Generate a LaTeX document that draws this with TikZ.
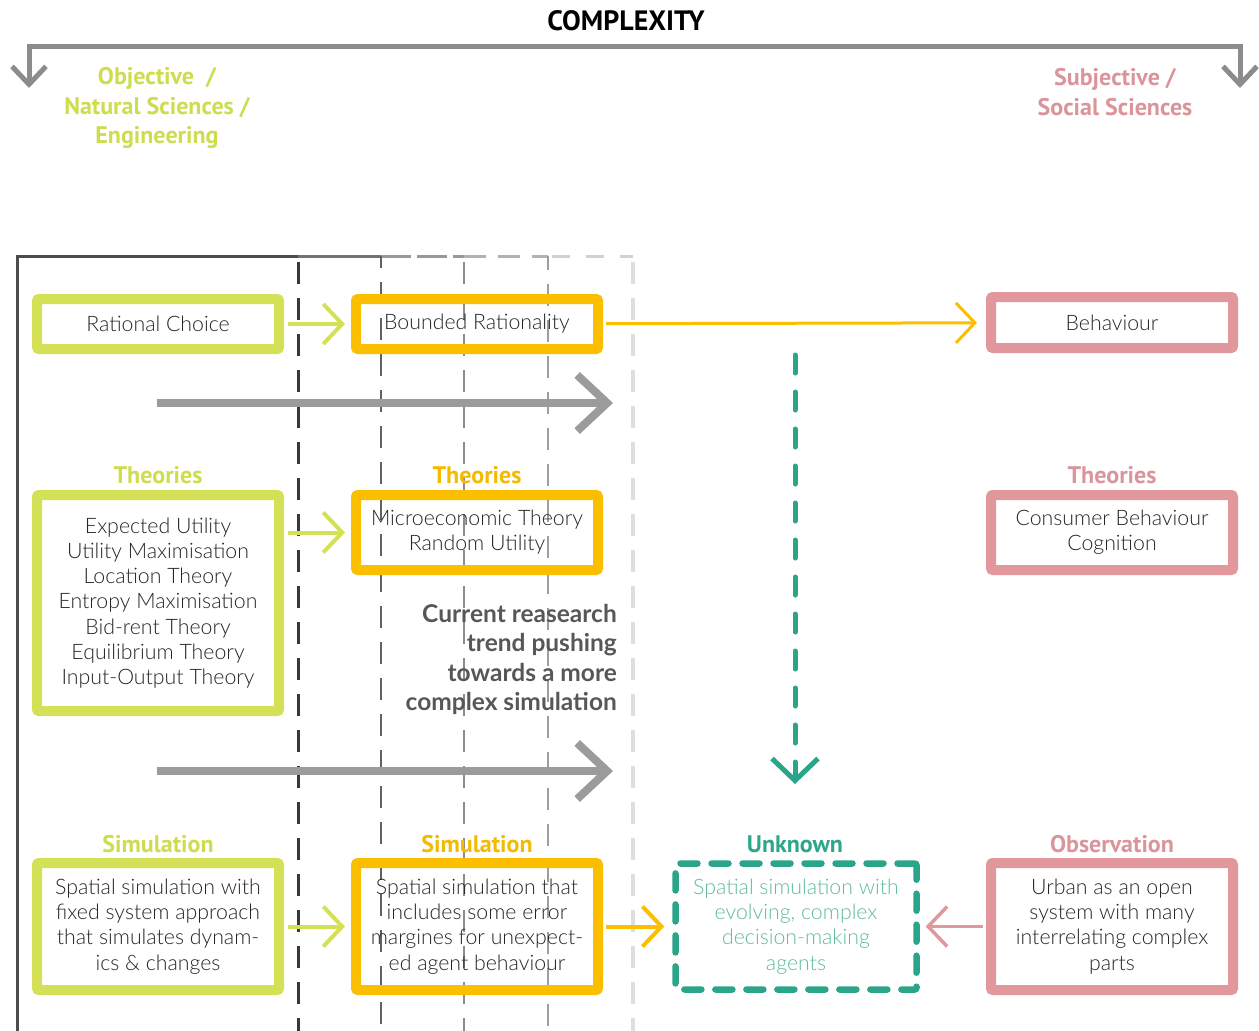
\documentclass[tikz,border=0pt]{standalone}
\usepackage{fontspec}
\usetikzlibrary{arrows.meta}

% Body text: a light sans; headings: a bold sans
\IfFontExistsTF{Lato Light}{\newfontfamily\bodyface{Lato Light}}{\newfontfamily\bodyface{Lato}}
\newfontfamily\strongface{Lato}
\newfontfamily\headface{PT Sans}

\newcommand{\bodyfont}{\bodyface\fontsize{21.3}{25.2}\selectfont}
\newcommand{\headfont}{\headface\bfseries\fontsize{24}{29.5}\selectfont}
\newcommand{\titlefont}{\headface\bfseries\fontsize{28}{30}\selectfont}
\newcommand{\notefont}{\strongface\bfseries\fontsize{24.5}{29.5}\selectfont}

\definecolor{lime}{HTML}{D4E157}
\definecolor{amber}{HTML}{FBBF00}
\definecolor{rose}{HTML}{E1979C}
\definecolor{teal}{HTML}{2BA589}
\definecolor{tealtxt}{HTML}{5FBAA1}
\definecolor{ink}{HTML}{262626}
\definecolor{trendgray}{HTML}{9B9B9B}
\definecolor{bracketgray}{HTML}{8C8C8C}
\definecolor{limeT}{HTML}{CCDD4E}
\definecolor{amberT}{HTML}{F4BA00}
\definecolor{roseT}{HTML}{DA959B}
\definecolor{tealT}{HTML}{2FA68A}
\definecolor{notegray}{HTML}{575757}

\pgfdeclarelayer{bg}
\pgfsetlayers{bg,main}

\begin{document}
\begin{tikzpicture}[x=1pt,y=-1pt,
  box/.style={draw, line width=10pt, rounded corners=2pt, minimum width=242pt,
    inner sep=0pt, align=center, font=\bodyfont, text=ink},
  unkbox/.style={draw=teal, line width=6.5pt, dash pattern=on 17pt off 14pt,
    line cap=round, rounded corners=2pt, minimum width=241pt, minimum height=126pt,
    inner sep=0pt, align=center, font=\bodyfont, text=tealtxt},
  head/.style={font=\headfont, anchor=base},
  link/.style={line width=4pt, -{Straight Barb[length=19pt,width=40pt]}},
  trend/.style={draw=trendgray, line width=8pt, -{Straight Barb[length=30pt,width=56pt]}},
  bracket/.style={draw=bracketgray, line width=5pt,
    {Straight Barb[length=18pt,width=34pt]}-{Straight Barb[length=18pt,width=34pt]}},
  gridline/.style={line width=#1, dash pattern=on 22pt off 14pt},
]
\useasboundingbox (0,0) rectangle (1259,1031);

% ---- heading and the complexity bracket
\node[font=\titlefont, anchor=base] (title) at (626,30) {COMPLEXITY};
\coordinate (lt) at (29,88);
\coordinate (rt) at (1240,88);
\draw[bracket] (lt) -- (29,46) -- (1240,46) -- (rt);
\node[font=\headfont, text=limeT, align=center] (objective) at (157,108)
  {Objective\ \ /\\Natural Sciences /\\Engineering};
\node[font=\headfont, text=roseT, align=center] (subjective) at (1115,92)
  {Subjective /\\Social Sciences};

% ---- row 1
\node[box, draw=lime, minimum height=50pt] (rc) at (158,324) {Rational Choice};
\node[box, draw=amber, minimum height=50pt] (br) at (477,324) {Bounded Rationality};
\node[box, draw=rose, minimum height=51pt] (beh) at (1112,322.5) {Behaviour};

% ---- row 2: theories
\node[head, text=limeT] (thA) at (158,483) {Theories};
\node[head, text=amberT] (thB) at (477,483) {Theories};
\node[head, text=roseT] (thC) at (1112,483) {Theories};
\node[box, draw=lime, minimum height=216pt] (th1) at (158,603)
  {Expected Utility\\Utility Maximisation\\Location Theory\\Entropy Maximisation\\Bid-rent Theory\\Equilibrium Theory\\Input-Output Theory};
\node[box, draw=amber, minimum height=75pt] (th2) at (477,532.5)
  {Microeconomic Theory\\Random Utility};
\node[box, draw=rose, minimum height=75pt] (th3) at (1112,532.5)
  {Consumer Behaviour\\Cognition};

\node[font=\notefont, text=notegray, align=right, anchor=north east, inner sep=0pt] (note) at (617,604)
  {Current reasearch\\trend pushing\\towards a more\\complex simulation};

% ---- row 3: simulation
\node[head, text=limeT] (smA) at (158,852) {Simulation};
\node[head, text=amberT] (smB) at (477,852) {Simulation};
\node[head, text=tealT] (smC) at (795,852) {Unknown};
\node[head, text=roseT] (smD) at (1112,852) {Observation};
\node[box, draw=lime, minimum height=127pt] (s1) at (158,926.5)
  {Spatial simulation with\\fixed system approach\\that simulates dynam-\\ics \& changes};
\node[box, draw=amber, minimum height=127pt] (s2) at (477,926.5)
  {Spatial simulation that\\includes some error\\margines for unexpect-\\ed agent behaviour};
\node[unkbox] (s3) at (796,926.5)
  {Spatial simulation with\\evolving, complex\\decision-making\\agents};
\node[box, draw=rose, minimum height=127pt] (s4) at (1112,926.5)
  {Urban as an open\\system with many\\interrelating complex\\parts};

% ---- white box interiors and the fading column grid behind the frames
\begin{pgfonlayer}{bg}
  \foreach \n in {rc,br,beh,th1,th2,th3,s1,s2,s4}
    \fill[white] (\n.north west) rectangle (\n.south east);
  \draw[line width=3pt, color=black!70] (17,1031) -- (17,256) -- (298,256);
  \draw[line width=3pt, color=black!55] (298,256) -- (381,256);
  \draw[line width=3pt, color=black!40, dash pattern=on 30pt off 6pt] (381,256) -- (464,256);
  \draw[line width=3pt, color=black!30, dash pattern=on 22pt off 12pt] (464,256) -- (548,256);
  \draw[line width=3pt, color=black!18, dash pattern=on 18pt off 16pt] (552,256) -- (633,256);
  \draw[gridline=3pt, color=black!78] (298,262) -- (298,1031);
  \draw[gridline=2.2pt, color=black!62, dash phase=10pt] (381,256) -- (381,1031);
  \draw[gridline=2pt, color=black!45] (464,262) -- (464,1031);
  \draw[gridline=2pt, color=black!38, dash phase=8pt] (548,256) -- (548,1031);
  \draw[gridline=3.5pt, color=black!13] (633,262) -- (633,1031);
\end{pgfonlayer}

% ---- connectors
\draw[link, draw=lime, shorten <=4pt, shorten >=6pt] (rc) -- (br);
\draw[link, draw=lime, shorten <=4pt, shorten >=6pt] (th1.east |- th2) -- (th2);
\draw[link, draw=lime, shorten <=4pt, shorten >=6pt] (s1) -- (s2);
\draw[link, draw=amber, line width=3pt, shorten <=3pt, shorten >=9pt] (br) -- (beh);
\draw[link, draw=amber, shorten <=3pt, shorten >=8pt] (s2) -- (s3);
\draw[link, draw=rose, line width=3.5pt, shorten <=3pt, shorten >=6pt] (s4) -- (s3);

% ---- trend arrows
\coordinate (t1a) at (157,403);
\coordinate (t1b) at (613,403);
\coordinate (t2a) at (157,771);
\coordinate (t2b) at (613,771);
\draw[trend] (t1a) -- (t1b);
\draw[trend] (t2a) -- (t2b);

% ---- open question: towards the unknown
\coordinate (ua) at (795,355);
\coordinate (ub) at (795,784);
\draw[draw=teal, line width=5pt, line cap=round, dash pattern=on 18pt off 19pt,
  -{Straight Barb[length=22pt,width=46pt]}] (ua) -- (ub);
\end{tikzpicture}
\end{document}
